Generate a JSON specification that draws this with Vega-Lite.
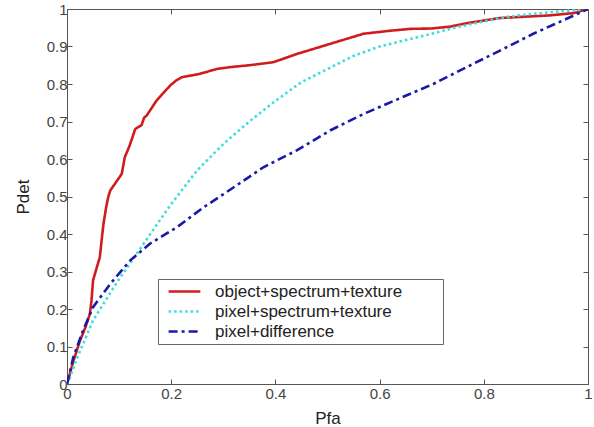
{
  "$schema": "https://vega.github.io/schema/vega-lite/v6.json",
  "width": 521,
  "height": 375,
  "autosize": {"type": "none"},
  "padding": {"left": 67, "top": 9, "right": 6, "bottom": 43},
  "background": "white",
  "config": {
    "view": {"stroke": null},
    "font": "Liberation Sans",
    "axis": {"grid": false, "domainColor": "#555", "tickColor": "#555", "tickSize": -5, "labelColor": "#444", "labelFontSize": 15, "labelFlush": false, "labelOverlap": false, "titleColor": "#222", "titleFontSize": 17, "titleFontWeight": "normal", "labelFont": "Liberation Sans", "titleFont": "Liberation Sans"},
    "legend": {"title": null, "orient": "none", "legendX": 91, "legendY": 270, "symbolType": "M-3.8,0H3.8", "symbolSize": 70, "symbolStrokeWidth": 2.6, "labelFontSize": 17, "labelColor": "#222", "labelFont": "Liberation Sans", "labelLimit": 400, "strokeColor": "#666", "fillColor": "white", "padding": 4, "symbolOffset": 14, "labelOffset": 22, "rowPadding": 2}
  },
  "data": {"values": [
    {"s": "object+spectrum+texture", "pfa": 0, "pdet": 0},
    {"s": "object+spectrum+texture", "pfa": 0.012, "pdet": 0.06},
    {"s": "object+spectrum+texture", "pfa": 0.025, "pdet": 0.116},
    {"s": "object+spectrum+texture", "pfa": 0.035, "pdet": 0.15},
    {"s": "object+spectrum+texture", "pfa": 0.044, "pdet": 0.187},
    {"s": "object+spectrum+texture", "pfa": 0.047, "pdet": 0.223},
    {"s": "object+spectrum+texture", "pfa": 0.05, "pdet": 0.276},
    {"s": "object+spectrum+texture", "pfa": 0.057, "pdet": 0.31},
    {"s": "object+spectrum+texture", "pfa": 0.063, "pdet": 0.338},
    {"s": "object+spectrum+texture", "pfa": 0.067, "pdet": 0.39},
    {"s": "object+spectrum+texture", "pfa": 0.07, "pdet": 0.427},
    {"s": "object+spectrum+texture", "pfa": 0.075, "pdet": 0.47},
    {"s": "object+spectrum+texture", "pfa": 0.079, "pdet": 0.498},
    {"s": "object+spectrum+texture", "pfa": 0.083, "pdet": 0.516},
    {"s": "object+spectrum+texture", "pfa": 0.09, "pdet": 0.53},
    {"s": "object+spectrum+texture", "pfa": 0.1, "pdet": 0.55},
    {"s": "object+spectrum+texture", "pfa": 0.105, "pdet": 0.56},
    {"s": "object+spectrum+texture", "pfa": 0.111, "pdet": 0.605},
    {"s": "object+spectrum+texture", "pfa": 0.12, "pdet": 0.635},
    {"s": "object+spectrum+texture", "pfa": 0.131, "pdet": 0.68},
    {"s": "object+spectrum+texture", "pfa": 0.143, "pdet": 0.69},
    {"s": "object+spectrum+texture", "pfa": 0.148, "pdet": 0.71},
    {"s": "object+spectrum+texture", "pfa": 0.153, "pdet": 0.716},
    {"s": "object+spectrum+texture", "pfa": 0.162, "pdet": 0.735},
    {"s": "object+spectrum+texture", "pfa": 0.172, "pdet": 0.756},
    {"s": "object+spectrum+texture", "pfa": 0.185, "pdet": 0.776},
    {"s": "object+spectrum+texture", "pfa": 0.198, "pdet": 0.796},
    {"s": "object+spectrum+texture", "pfa": 0.21, "pdet": 0.81},
    {"s": "object+spectrum+texture", "pfa": 0.22, "pdet": 0.818},
    {"s": "object+spectrum+texture", "pfa": 0.255, "pdet": 0.827},
    {"s": "object+spectrum+texture", "pfa": 0.287, "pdet": 0.84},
    {"s": "object+spectrum+texture", "pfa": 0.313, "pdet": 0.845},
    {"s": "object+spectrum+texture", "pfa": 0.35, "pdet": 0.85},
    {"s": "object+spectrum+texture", "pfa": 0.396, "pdet": 0.858},
    {"s": "object+spectrum+texture", "pfa": 0.441, "pdet": 0.88},
    {"s": "object+spectrum+texture", "pfa": 0.505, "pdet": 0.907},
    {"s": "object+spectrum+texture", "pfa": 0.569, "pdet": 0.934},
    {"s": "object+spectrum+texture", "pfa": 0.62, "pdet": 0.942},
    {"s": "object+spectrum+texture", "pfa": 0.658, "pdet": 0.947},
    {"s": "object+spectrum+texture", "pfa": 0.7, "pdet": 0.948},
    {"s": "object+spectrum+texture", "pfa": 0.735, "pdet": 0.953},
    {"s": "object+spectrum+texture", "pfa": 0.767, "pdet": 0.962},
    {"s": "object+spectrum+texture", "pfa": 0.831, "pdet": 0.976},
    {"s": "object+spectrum+texture", "pfa": 0.927, "pdet": 0.983},
    {"s": "object+spectrum+texture", "pfa": 0.972, "pdet": 0.989},
    {"s": "object+spectrum+texture", "pfa": 1, "pdet": 1},
    {"s": "pixel+spectrum+texture", "pfa": 0, "pdet": 0},
    {"s": "pixel+spectrum+texture", "pfa": 0.006, "pdet": 0.018},
    {"s": "pixel+spectrum+texture", "pfa": 0.018, "pdet": 0.065},
    {"s": "pixel+spectrum+texture", "pfa": 0.031, "pdet": 0.107},
    {"s": "pixel+spectrum+texture", "pfa": 0.05, "pdet": 0.17},
    {"s": "pixel+spectrum+texture", "pfa": 0.1, "pdet": 0.28},
    {"s": "pixel+spectrum+texture", "pfa": 0.15, "pdet": 0.38},
    {"s": "pixel+spectrum+texture", "pfa": 0.2, "pdet": 0.48},
    {"s": "pixel+spectrum+texture", "pfa": 0.25, "pdet": 0.57},
    {"s": "pixel+spectrum+texture", "pfa": 0.3, "pdet": 0.64},
    {"s": "pixel+spectrum+texture", "pfa": 0.35, "pdet": 0.7},
    {"s": "pixel+spectrum+texture", "pfa": 0.4, "pdet": 0.755},
    {"s": "pixel+spectrum+texture", "pfa": 0.45, "pdet": 0.805},
    {"s": "pixel+spectrum+texture", "pfa": 0.5, "pdet": 0.84},
    {"s": "pixel+spectrum+texture", "pfa": 0.55, "pdet": 0.875},
    {"s": "pixel+spectrum+texture", "pfa": 0.6, "pdet": 0.9},
    {"s": "pixel+spectrum+texture", "pfa": 0.65, "pdet": 0.917},
    {"s": "pixel+spectrum+texture", "pfa": 0.7, "pdet": 0.934},
    {"s": "pixel+spectrum+texture", "pfa": 0.75, "pdet": 0.952},
    {"s": "pixel+spectrum+texture", "pfa": 0.8, "pdet": 0.967},
    {"s": "pixel+spectrum+texture", "pfa": 0.85, "pdet": 0.98},
    {"s": "pixel+spectrum+texture", "pfa": 0.9, "pdet": 0.988},
    {"s": "pixel+spectrum+texture", "pfa": 0.95, "pdet": 0.994},
    {"s": "pixel+spectrum+texture", "pfa": 1, "pdet": 1},
    {"s": "pixel+difference", "pfa": 0, "pdet": 0},
    {"s": "pixel+difference", "pfa": 0.012, "pdet": 0.071},
    {"s": "pixel+difference", "pfa": 0.031, "pdet": 0.143},
    {"s": "pixel+difference", "pfa": 0.05, "pdet": 0.205},
    {"s": "pixel+difference", "pfa": 0.083, "pdet": 0.267},
    {"s": "pixel+difference", "pfa": 0.121, "pdet": 0.329},
    {"s": "pixel+difference", "pfa": 0.159, "pdet": 0.374},
    {"s": "pixel+difference", "pfa": 0.211, "pdet": 0.418},
    {"s": "pixel+difference", "pfa": 0.262, "pdet": 0.471},
    {"s": "pixel+difference", "pfa": 0.313, "pdet": 0.518},
    {"s": "pixel+difference", "pfa": 0.377, "pdet": 0.578},
    {"s": "pixel+difference", "pfa": 0.441, "pdet": 0.623},
    {"s": "pixel+difference", "pfa": 0.505, "pdet": 0.676},
    {"s": "pixel+difference", "pfa": 0.569, "pdet": 0.72},
    {"s": "pixel+difference", "pfa": 0.639, "pdet": 0.762},
    {"s": "pixel+difference", "pfa": 0.703, "pdet": 0.8},
    {"s": "pixel+difference", "pfa": 0.767, "pdet": 0.845},
    {"s": "pixel+difference", "pfa": 0.831, "pdet": 0.889},
    {"s": "pixel+difference", "pfa": 0.895, "pdet": 0.934},
    {"s": "pixel+difference", "pfa": 0.959, "pdet": 0.974},
    {"s": "pixel+difference", "pfa": 1, "pdet": 1}
  ]},
  "layer": [
    {
      "mark": {"type": "line", "strokeWidth": 2.6, "clip": true},
      "encoding": {
        "x": {"field": "pfa", "type": "quantitative", "scale": {"domain": [0, 1], "nice": false, "zero": false},
              "axis": {"orient": "bottom", "title": "Pfa", "values": [0, 0.2, 0.4, 0.6, 0.8, 1], "format": "~g", "labelPadding": 7, "titlePadding": 9}},
        "y": {"field": "pdet", "type": "quantitative", "scale": {"domain": [0, 1], "nice": false, "zero": false},
              "axis": {"orient": "left", "title": "Pdet", "values": [0, 0.1, 0.2, 0.3, 0.4, 0.5, 0.6, 0.7, 0.8, 0.9, 1], "format": "~g", "labelPadding": 5, "titlePadding": 14}},
        "color": {"field": "s", "type": "nominal",
                  "scale": {"domain": ["object+spectrum+texture", "pixel+spectrum+texture", "pixel+difference"], "range": ["#d01c1c", "#3fdcdc", "#1a1aa6"]},
                  "legend": {"labelExpr": "datum.label + '\u2800\u2800\u2800'"}},
        "strokeDash": {"field": "s", "type": "nominal",
                  "scale": {"domain": ["object+spectrum+texture", "pixel+spectrum+texture", "pixel+difference"], "range": [[1, 0], [2.5, 3], [9, 4, 3, 4]]},
                  "legend": {"labelExpr": "datum.label + '\u2800\u2800\u2800'"}}
      }
    },
    {
      "mark": {"type": "line", "opacity": 0},
      "encoding": {
        "x": {"field": "pfa", "type": "quantitative", "axis": {"orient": "top", "title": null, "labels": false, "values": [0, 0.2, 0.4, 0.6, 0.8, 1]}},
        "y": {"field": "pdet", "type": "quantitative", "axis": {"orient": "right", "title": null, "labels": false, "values": [0, 0.1, 0.2, 0.3, 0.4, 0.5, 0.6, 0.7, 0.8, 0.9, 1]}},
        "detail": {"field": "s", "type": "nominal"}
      }
    }
  ],
  "resolve": {"axis": {"x": "independent", "y": "independent"}}
}
